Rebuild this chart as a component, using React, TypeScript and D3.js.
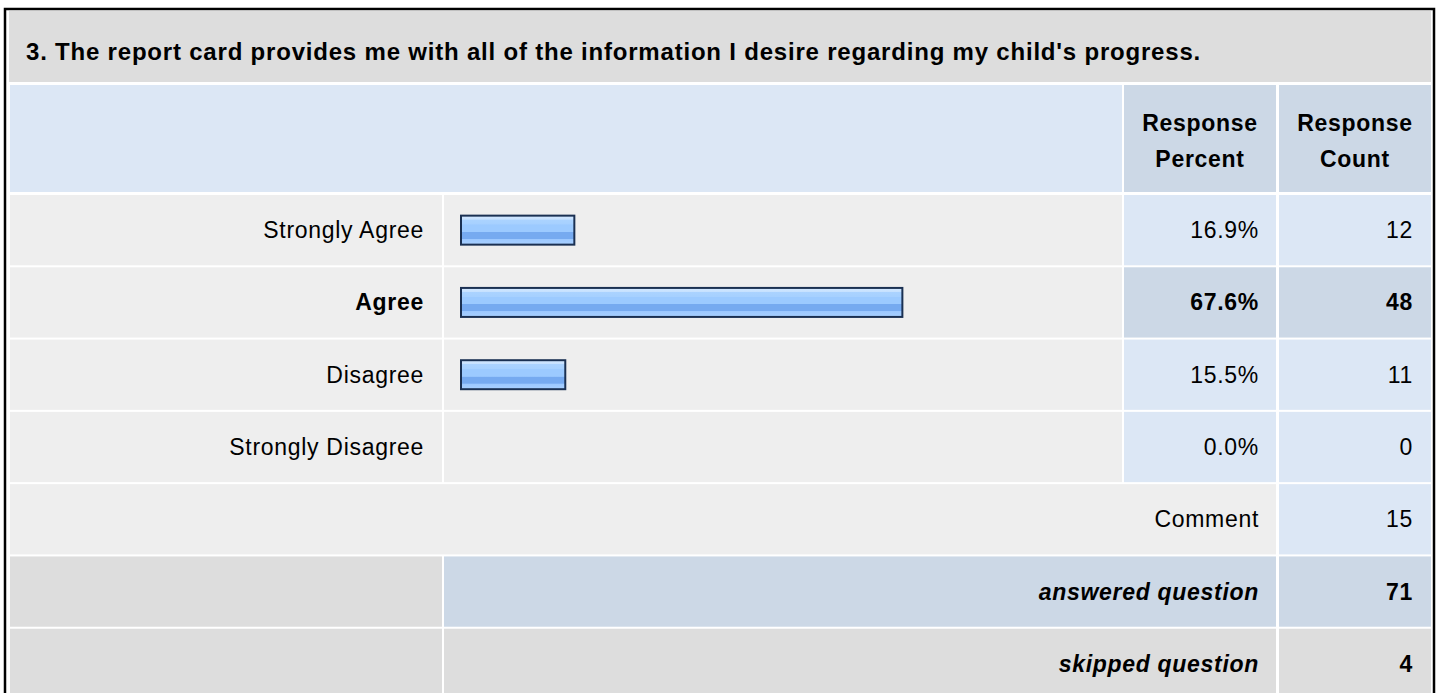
import React from 'react';
import * as d3 from 'd3';

// survey question data
const title = "3. The report card provides me with all of the information I desire regarding my child's progress.";
const answers = ['Strongly Agree', 'Agree', 'Disagree', 'Strongly Disagree'];
const percents = [16.9, 67.6, 15.5, 0.0];
const counts = [12, 48, 11, 0];
const commentCount = 15;
const answeredCount = 71;
const skippedCount = 4;

const FONT = '"Liberation Sans", Arial, Helvetica, sans-serif';
const GREY = '#dddddd';
const LIGHT = '#eeeeee';
const BLUE = '#dce7f5';
const STEEL = '#ccd8e6';

const W = 1440;
const H = 693;

// column edges
const colLabel = { x0: 10, x1: 442 };
const colBar = { x0: 444, x1: 1122 };
const colPct = { x0: 1124, x1: 1276 };
const colCnt = { x0: 1279, x1: 1431 };

export default function App() {
  const rowKeys = [...answers, 'comment', 'answered', 'skipped'];
  const y = d3.scaleBand<string>()
    .domain(rowKeys)
    .range([195, 195 + rowKeys.length * 72])
    .paddingInner(2 / 72)
    .paddingOuter(0);
  const x = d3.scaleLinear().domain([0, 100]).range([0, 647]);
  const maxIdx = d3.maxIndex(counts);

  const txt = (tx: number, ty: number, s: string | number, opts: any = {}) => (
    <text
      x={tx}
      y={ty}
      textAnchor={opts.anchor || 'end'}
      fontFamily={FONT}
      fontSize={opts.size || 23}
      fontWeight={opts.bold ? 'bold' : 'normal'}
      fontStyle={opts.italic ? 'italic' : 'normal'}
      letterSpacing={opts.ls ?? 0.7}
      fill="#000"
    >
      {s}
    </text>
  );

  const bh = y.bandwidth();

  return (
    <svg
      width={W}
      height={H}
      style={{ position: 'absolute', left: 0, top: 0, display: 'block', background: '#fff' }}
    >
      <defs>
        <linearGradient id="barGrad" x1="0" y1="0" x2="0" y2="1">
          <stop offset="0%" stopColor="#d3e8ff" />
          <stop offset="13%" stopColor="#c6e1ff" />
          <stop offset="14%" stopColor="#abd3ff" />
          <stop offset="30%" stopColor="#a6d0ff" />
          <stop offset="31%" stopColor="#9ccaff" />
          <stop offset="56%" stopColor="#9ccaff" />
          <stop offset="57%" stopColor="#76aaf0" />
          <stop offset="80%" stopColor="#76aaf0" />
          <stop offset="81%" stopColor="#9cc8ff" />
          <stop offset="100%" stopColor="#a8d0ff" />
        </linearGradient>
      </defs>

      {/* outer frame */}
      <rect x={5} y={9} width={1429} height={H + 20} fill="none" stroke="#000" strokeWidth={2.5} />

      {/* title */}
      <rect x={9} y={11} width={colCnt.x1 - 9} height={71} fill={GREY} />
      {txt(26, 60, title, { anchor: 'start', bold: true, size: 24, ls: 0.8 })}

      {/* header row */}
      <rect x={colLabel.x0} y={85} width={colBar.x1 - colLabel.x0} height={107} fill={BLUE} />
      <rect x={colPct.x0} y={85} width={colPct.x1 - colPct.x0} height={107} fill={STEEL} />
      <rect x={colCnt.x0} y={85} width={colCnt.x1 - colCnt.x0} height={107} fill={STEEL} />
      {txt((colPct.x0 + colPct.x1) / 2, 131, 'Response', { anchor: 'middle', bold: true })}
      {txt((colPct.x0 + colPct.x1) / 2, 167, 'Percent', { anchor: 'middle', bold: true })}
      {txt((colCnt.x0 + colCnt.x1) / 2, 131, 'Response', { anchor: 'middle', bold: true })}
      {txt((colCnt.x0 + colCnt.x1) / 2, 167, 'Count', { anchor: 'middle', bold: true })}

      {/* answer rows */}
      {answers.map((a, i) => {
        const ry = y(a)!;
        const base = ry + bh / 2 + 8;
        const hi = i === maxIdx;
        const barW = x(percents[i]) + 6;
        return (
          <g key={a}>
            <rect x={colLabel.x0} y={ry} width={colLabel.x1 - colLabel.x0} height={bh} fill={LIGHT} />
            <rect x={colBar.x0} y={ry} width={colBar.x1 - colBar.x0} height={bh} fill={LIGHT} />
            <rect x={colPct.x0} y={ry} width={colPct.x1 - colPct.x0} height={bh} fill={hi ? STEEL : BLUE} />
            <rect x={colCnt.x0} y={ry} width={colCnt.x1 - colCnt.x0} height={bh} fill={hi ? STEEL : BLUE} />
            {counts[i] > 0 && (
              <rect
                x={461}
                y={ry + bh / 2 - 14.5}
                width={barW - 2}
                height={29}
                fill="url(#barGrad)"
                stroke="#1a3052"
                strokeWidth={2}
              />
            )}
            {txt(colLabel.x1 - 18, base, a, { bold: hi })}
            {txt(colPct.x1 - 17, base, `${percents[i].toFixed(1)}%`, { bold: hi })}
            {txt(colCnt.x1 - 18, base, counts[i], { bold: hi })}
          </g>
        );
      })}

      {/* comment row */}
      <rect x={colLabel.x0} y={y('comment')!} width={colPct.x1 - colLabel.x0} height={bh} fill={LIGHT} />
      <rect x={colCnt.x0} y={y('comment')!} width={colCnt.x1 - colCnt.x0} height={bh} fill={BLUE} />
      {txt(colPct.x1 - 17, y('comment')! + bh / 2 + 8, 'Comment')}
      {txt(colCnt.x1 - 18, y('comment')! + bh / 2 + 8, commentCount)}

      {/* answered question */}
      <rect x={colLabel.x0} y={y('answered')!} width={colLabel.x1 - colLabel.x0} height={bh} fill={GREY} />
      <rect x={colBar.x0} y={y('answered')!} width={colPct.x1 - colBar.x0} height={bh} fill={STEEL} />
      <rect x={colCnt.x0} y={y('answered')!} width={colCnt.x1 - colCnt.x0} height={bh} fill={STEEL} />
      {txt(colPct.x1 - 17, y('answered')! + bh / 2 + 8, 'answered question', { bold: true, italic: true })}
      {txt(colCnt.x1 - 18, y('answered')! + bh / 2 + 8, answeredCount, { bold: true })}

      {/* skipped question */}
      <rect x={colLabel.x0} y={y('skipped')!} width={colLabel.x1 - colLabel.x0} height={bh} fill={GREY} />
      <rect x={colBar.x0} y={y('skipped')!} width={colPct.x1 - colBar.x0} height={bh} fill={GREY} />
      <rect x={colCnt.x0} y={y('skipped')!} width={colCnt.x1 - colCnt.x0} height={bh} fill={GREY} />
      {txt(colPct.x1 - 17, y('skipped')! + bh / 2 + 8, 'skipped question', { bold: true, italic: true })}
      {txt(colCnt.x1 - 18, y('skipped')! + bh / 2 + 8, skippedCount, { bold: true })}
    </svg>
  );
}
